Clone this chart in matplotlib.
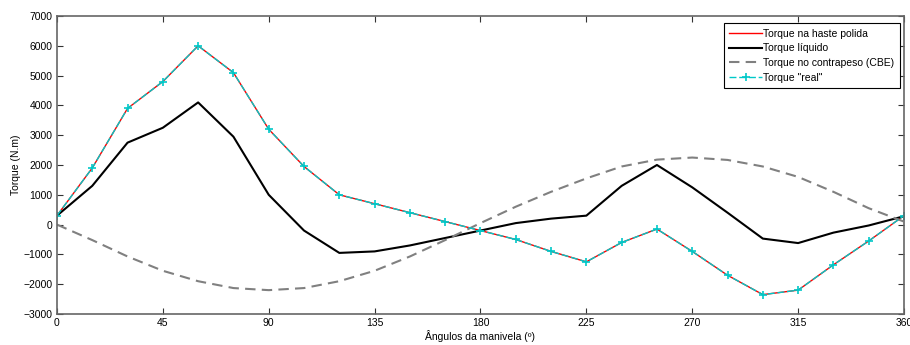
import numpy as np
import matplotlib.pyplot as plt

plt.rcParams['font.family'] = ['Liberation Sans', 'DejaVu Sans']

# angulos da manivela (graus)
angulos = np.arange(0, 361, 15)

# torque na haste polida / torque "real" (N.m)
torque_haste = [300, 1900, 3900, 4800, 6000, 5100, 3200, 1950, 1000, 700, 400, 100,
                -200, -500, -900, -1250, -600, -150, -900, -1700, -2350, -2200,
                -1350, -550, 300]
torque_real = list(torque_haste)

# torque liquido
torque_liq = [300, 1300, 2750, 3250, 4100, 2950, 1000, -200, -950, -900, -700, -450,
              -200, 50, 200, 300, 1300, 2000, 1250, 400, -470, -620, -270, -30, 280]

# torque no contrapeso (CBE)
torque_cbe = [0, -520, -1070, -1550, -1900, -2130, -2200, -2130, -1900, -1550, -1070, -520,
              50, 600, 1100, 1550, 1950, 2180, 2250, 2170, 1950, 1600, 1100, 550, 100]

xticks = [0, 45, 90, 135, 180, 225, 270, 315, 360]
yticks = np.arange(-3000, 7001, 1000)

fig = plt.figure(figsize=(9.1, 3.45), dpi=100)
ax = fig.add_axes([0.0626, 0.0899, 0.9308, 0.8637])

ax.plot(angulos, torque_haste, color='red', lw=1.0, label='Torque na haste polida')
ax.plot(angulos, torque_liq, color='black', lw=1.5, label='Torque líquido')
ax.plot(angulos, torque_cbe, color='gray', lw=1.5, ls=(0, (5, 3)), label='Torque no contrapeso (CBE)')
ax.plot(angulos, torque_real, color='#00c8c8', lw=1.0, ls=(0, (5, 2)), marker='+',
        ms=6, mew=1.2, label='Torque "real"')

ax.set_xlim(0, 360)
ax.set_ylim(-3000, 7000)
ax.set_xticks(xticks)
ax.set_yticks(yticks)
ax.tick_params(direction='in', top=True, right=True, labelsize=7.5, length=4,
               color='#333333', pad=3)
for s in ax.spines.values():
    s.set_color('#666666')
    s.set_linewidth(1.2)

ax.set_xlabel('Ângulos da manivela (º)', fontsize=7.5, labelpad=1)
ax.set_ylabel('Torque (N.m)', fontsize=7.5, labelpad=2)

leg = ax.legend(loc='upper right', bbox_to_anchor=(0.995, 0.975), fontsize=7.5,
                fancybox=False, framealpha=1, edgecolor='black', handlelength=3.2,
                handletextpad=0.1, borderpad=0.5, labelspacing=0.45, borderaxespad=0)
leg.get_frame().set_linewidth(0.8)

fig.savefig('out.png', dpi=100)
